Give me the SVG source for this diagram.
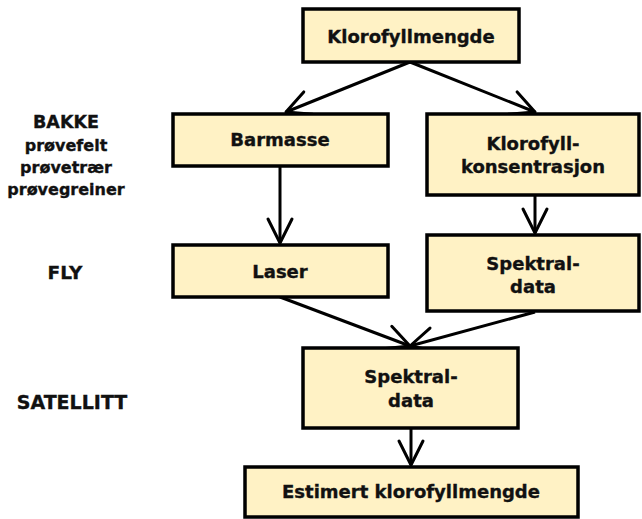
<svg xmlns="http://www.w3.org/2000/svg" width="642" height="519" viewBox="0 0 642 519">
<defs>
<style>
.box{fill:#FFF2C5;stroke:#000;stroke-width:3.5}
.t{font-family:"DejaVu Sans",Verdana,sans-serif;font-weight:bold;font-size:18px;fill:#111;stroke:#111;stroke-width:0.35;text-anchor:middle}
.lbl{font-family:"DejaVu Sans",Verdana,sans-serif;font-weight:bold;font-size:16px;fill:#111;stroke:#111;stroke-width:0.35;text-anchor:middle}
.c{fill:none;stroke:#000;stroke-width:3;marker-end:url(#ah)}
</style>
<marker id="ah" markerUnits="userSpaceOnUse" markerWidth="40" markerHeight="40" viewBox="-30 -20 40 40" refX="0" refY="0" orient="auto">
<path d="M-24,-12 L0,0 L-24,12" fill="none" stroke="#000" stroke-width="3" stroke-linejoin="round" stroke-linecap="round"/>
</marker>
</defs>
<rect width="642" height="519" fill="#fff"/>
<g id="labels">
<text class="lbl" x="66" y="128" style="font-size:17.5px">BAKKE</text>
<text class="lbl" x="66" y="151">prøvefelt</text>
<text class="lbl" x="66" y="173">prøvetrær</text>
<text class="lbl" x="66" y="195">prøvegreiner</text>
<text class="lbl" x="65" y="279" style="font-size:18.5px">FLY</text>
<text class="lbl" x="72" y="409" style="font-size:19px">SATELLITT</text>
</g>
<g id="connectors">
<line class="c" x1="410" y1="62" x2="286" y2="112"/>
<line class="c" x1="410" y1="62" x2="535" y2="112"/>
<line class="c" x1="280" y1="166" x2="280" y2="243"/>
<line class="c" x1="535" y1="196" x2="535" y2="233"/>
<line class="c" x1="280" y1="297" x2="410" y2="346"/>
<line class="c" x1="535" y1="312" x2="410" y2="346"/>
<line class="c" x1="411" y1="428" x2="411" y2="465"/>
</g>
<g id="n1"><rect class="box" x="303" y="9" width="216" height="53"/><text class="t" x="411" y="43">Klorofyllmengde</text></g>
<g id="n2"><rect class="box" x="173" y="114" width="215" height="52"/><text class="t" x="280" y="146">Barmasse</text></g>
<g id="n3"><rect class="box" x="427" y="114" width="212" height="81"/><text class="t" x="533" y="150">Klorofyll-</text><text class="t" x="533" y="173">konsentrasjon</text></g>
<g id="n4"><rect class="box" x="173" y="245" width="215" height="52"/><text class="t" x="280" y="278">Laser</text></g>
<g id="n5"><rect class="box" x="427" y="235" width="212" height="76"/><text class="t" x="533" y="270">Spektral-</text><text class="t" x="533" y="293">data</text></g>
<g id="n6"><rect class="box" x="303" y="348" width="215" height="80"/><text class="t" x="411" y="383">Spektral-</text><text class="t" x="411" y="407">data</text></g>
<g id="n7"><rect class="box" x="245" y="467" width="333" height="50"/><text class="t" x="411" y="498">Estimert klorofyllmengde</text></g>
</svg>
